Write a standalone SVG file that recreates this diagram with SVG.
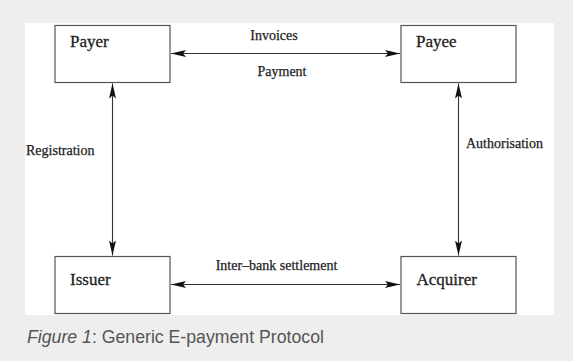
<svg xmlns="http://www.w3.org/2000/svg" width="573" height="361" viewBox="0 0 573 361">
<style>
.box{fill:#ffffff;stroke:#555555;stroke-width:1.2}
.lbl{font-family:"Liberation Serif","Times New Roman",serif;font-size:17px;fill:#222222;stroke:#222222;stroke-width:0.3}
.edge{font-family:"Liberation Serif","Times New Roman",serif;font-size:14px;fill:#222222;stroke:#222222;stroke-width:0.25}
.conn{stroke:#333333;stroke-width:1.1;fill:none;marker-start:url(#ah);marker-end:url(#ah)}
.cap{font-family:"Liberation Sans",Arial,sans-serif;font-size:17.7px;fill:#555555}
</style>
<defs>
<marker id="ah" markerUnits="userSpaceOnUse" markerWidth="16" markerHeight="8" refX="15" refY="3.5" orient="auto-start-reverse">
<path d="M0,0 L15,3.5 L0,7 L3,3.5 z" fill="#111111"/>
</marker>
</defs>
<rect x="0" y="0" width="573" height="361" fill="#eeeeee"/>
<rect x="25" y="23" width="529" height="292" fill="#ffffff"/>
<g id="connectors">
<line class="conn" x1="171" y1="53.5" x2="400" y2="53.5"/>
<line class="conn" x1="171" y1="284.5" x2="400" y2="284.5"/>
<line class="conn" x1="112.5" y1="83.5" x2="112.5" y2="255.5"/>
<line class="conn" x1="458.5" y1="83.5" x2="458.5" y2="255.5"/>
<text class="edge" x="274" y="40" text-anchor="middle">Invoices</text>
<text class="edge" x="282" y="76" text-anchor="middle">Payment</text>
<text class="edge" x="276.5" y="270" text-anchor="middle">Inter–bank settlement</text>
<text class="edge" x="26" y="155">Registration</text>
<text class="edge" x="466" y="148">Authorisation</text>
</g>
<g id="payer">
<rect class="box" x="55" y="25.5" width="115" height="57"/>
<text class="lbl" x="70" y="46.5">Payer</text>
</g>
<g id="payee">
<rect class="box" x="401" y="25.5" width="115" height="57"/>
<text class="lbl" x="416" y="46.5">Payee</text>
</g>
<g id="issuer">
<rect class="box" x="55" y="256.5" width="115" height="57"/>
<text class="lbl" x="70" y="285">Issuer</text>
</g>
<g id="acquirer">
<rect class="box" x="401" y="256.5" width="115" height="57"/>
<text class="lbl" x="416.5" y="285">Acquirer</text>
</g>
<text class="cap" x="27" y="343"><tspan font-style="italic">Figure 1</tspan>: Generic E-payment Protocol</text>
</svg>
